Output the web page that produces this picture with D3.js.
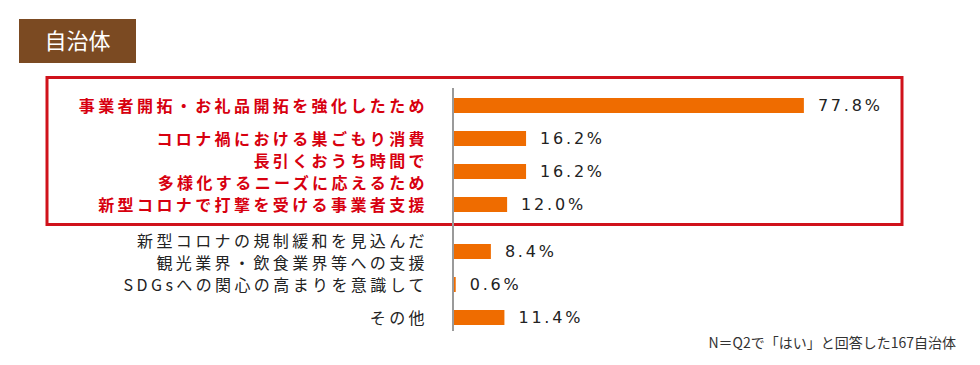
<!DOCTYPE html>
<html lang="ja">
<head>
<meta charset="utf-8">
<title>自治体</title>
<style>
  body { margin: 0; background: #fff; }
  svg text { font-family: "Noto Sans CJK JP", "Noto Sans", sans-serif; }
  .val { font-family: "DejaVu Sans", Verdana, sans-serif; }
</style>
<script src="https://cdn.jsdelivr.net/npm/d3@7"></script>
</head>
<body>
<svg id="chart" width="980" height="365"></svg>
<script>
// data
var labels = [
  ["事業者開拓・お礼品開拓を強化したため"],
  ["コロナ禍における巣ごもり消費"],
  ["長引くおうち時間で", "多様化するニーズに応えるため"],
  ["新型コロナで打撃を受ける事業者支援"],
  ["新型コロナの規制緩和を見込んだ", "観光業界・飲食業界等への支援"],
  ["SDGsへの関心の高まりを意識して"],
  ["その他"]
];
var values = [77.8, 16.2, 16.2, 12.0, 8.4, 0.6, 11.4];
var highlighted = [true, true, true, true, false, false, false];
var title = "自治体";
var note = "N＝Q2で「はい」と回答した167自治体";

var svg = d3.select("#chart");

// title box
svg.append("rect").attr("x", 19).attr("y", 19).attr("width", 117).attr("height", 44)
  .attr("fill", "#7b4a22");
svg.append("text").attr("x", 77.5).attr("y", 41).attr("dy", "0.36em")
  .attr("text-anchor", "middle").attr("fill", "#fff")
  .style("font-size", "22px").text(title);

var x0 = 453;
var x = d3.scaleLinear().domain([0, 100]).range([x0, x0 + 451]);
var idx = d3.range(values.length);
var y = d3.scaleBand().domain(idx).range([89, 89 + 33 * values.length]).paddingInner(0.55).paddingOuter(0.275);
var gap = 14;
function cy(i) { return y(i) + y.bandwidth() / 2 + (highlighted[i] ? 0 : gap); }

// red frame
svg.append("rect").attr("x", 47).attr("y", 77.5).attr("width", 855).attr("height", 147)
  .attr("fill", "none").attr("stroke", "#d0121b").attr("stroke-width", 3);

// bars
svg.selectAll(".bar").data(values).enter().append("rect")
  .attr("class", "bar")
  .attr("x", x(0))
  .attr("y", function(d, i) { return cy(i) - 7.5; })
  .attr("width", function(d) { return x(d) - x(0); })
  .attr("height", 15)
  .attr("fill", "#ef6c00");

// axis line
svg.append("line").attr("x1", x0).attr("x2", x0).attr("y1", 88).attr("y2", 331)
  .attr("stroke", "#9a9a9a").attr("stroke-width", 2);

// value labels
svg.selectAll(".val").data(values).enter().append("text")
  .attr("class", "val")
  .attr("x", function(d) { return x(d) + 14; })
  .attr("y", function(d, i) { return cy(i); })
  .attr("dy", "0.36em")
  .attr("fill", "#222")
  .style("font-size", "16px")
  .style("letter-spacing", "2.8px")
  .text(function(d) { return d.toFixed(1) + "%"; });

// category labels
labels.forEach(function(lines, i) {
  var t = svg.append("text")
    .attr("text-anchor", "end")
    .attr("fill", highlighted[i] ? "#d7000f" : "#222")
    .style("font-size", "16px")
    .style("font-weight", highlighted[i] ? "bold" : "normal")
    .style("letter-spacing", "3.4px");
  lines.forEach(function(s, j) {
    t.append("tspan")
      .attr("x", 428)
      .attr("y", cy(i) + (j - (lines.length - 1) / 2) * 22 + 1)
      .attr("dy", "0.36em")
      .text(s);
  });
});

// note
svg.append("text").attr("x", 956).attr("y", 343).attr("dy", "0.36em")
  .attr("text-anchor", "end").attr("fill", "#333")
  .style("font-size", "14px").text(note);
</script>
</body>
</html>
